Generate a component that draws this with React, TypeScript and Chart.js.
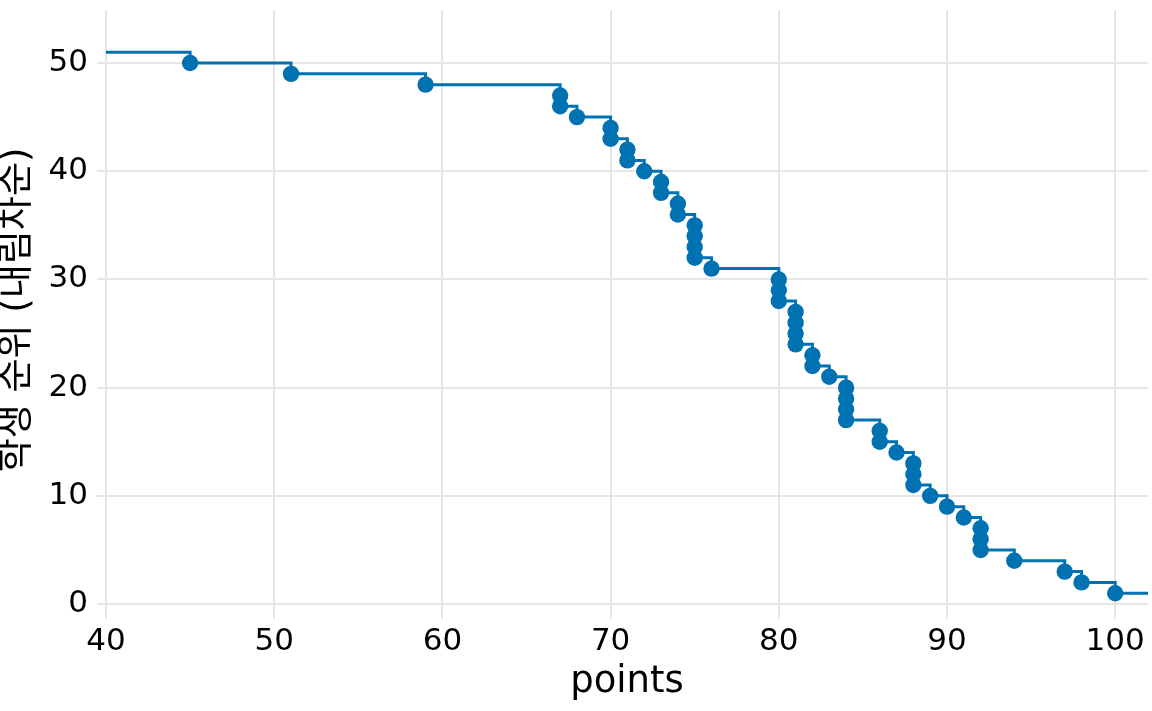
import React, { useEffect, useRef } from "react";
import { Chart, registerables } from "chart.js";

Chart.register(...registerables);

// Student scores sorted ascending, with their descending rank
const scores = [45, 51, 59, 67, 67, 68, 70, 70, 71, 71, 72, 73, 73, 74, 74, 75, 75, 75, 75, 76, 80, 80, 80, 81, 81, 81, 81, 82, 82, 83, 84, 84, 84, 84, 86, 86, 87, 88, 88, 88, 89, 90, 91, 92, 92, 92, 94, 97, 98, 100];
const ranks = [50, 49, 48, 47, 46, 45, 44, 43, 42, 41, 40, 39, 38, 37, 36, 35, 34, 33, 32, 31, 30, 29, 28, 27, 26, 25, 24, 23, 22, 21, 20, 19, 18, 17, 16, 15, 14, 13, 12, 11, 10, 9, 8, 7, 6, 5, 4, 3, 2, 1];
const xTicks = [40, 50, 60, 70, 80, 90, 100];
const yTicks = [0, 10, 20, 30, 40, 50];
const stepStartRank = 51;
const stepEndRank = 1;

const X_MIN = 40;
const X_MAX = 101.95;
const Y_MIN = -0.55;
const Y_MAX = 54.9;

const BLUE = "#0072B2";
const GRID = "#E6E6E6";
const FONT = "'DejaVu Sans', 'Noto Sans CJK KR', sans-serif";

export default function App() {
  const ref = useRef<HTMLCanvasElement | null>(null);

  useEffect(() => {
    document.body.style.margin = "0";
    if (!ref.current) return;
    const pts = scores.map((s, i) => ({ x: s, y: ranks[i] }));
    const stepData = [{ x: X_MIN, y: stepStartRank }, ...pts, { x: X_MAX, y: stepEndRank }];
    const chart = new Chart(ref.current, {
      type: "scatter",
      data: {
        datasets: [
          {
            type: "line",
            data: stepData,
            stepped: "before",
            borderColor: BLUE,
            borderWidth: 3,
            pointRadius: 0,
            fill: false,
            order: 2,
          } as any,
          {
            type: "scatter",
            data: pts,
            backgroundColor: BLUE,
            borderColor: BLUE,
            borderWidth: 0,
            pointRadius: 8.2,
            order: 1,
          },
        ],
      },
      options: {
        animation: false,
        responsive: true,
        maintainAspectRatio: false,
        layout: { autoPadding: false, padding: { top: 10, right: 4, left: 0, bottom: 0 } },
        plugins: { legend: { display: false }, tooltip: { enabled: false } },
        scales: {
          x: {
            type: "linear",
            min: X_MIN,
            max: X_MAX,
            afterBuildTicks: (s: any) => {
              s.ticks = xTicks.map((v) => ({ value: v }));
            },
            afterFit: (s: any) => {
              s.height = 101;
              s.paddingLeft = 0;
              s.paddingRight = 0;
            },
            grid: {
              color: GRID,
              lineWidth: 2,
              drawTicks: true,
              tickLength: 9,
              tickColor: GRID,
              tickWidth: 2,
            },
            border: { display: false },
            ticks: {
              color: "#000",
              font: { family: FONT, size: 31 },
              padding: 4,
              maxRotation: 0,
              autoSkip: false,
            },
            title: {
              display: true,
              text: "points",
              color: "#000",
              font: { family: FONT, size: 37, lineHeight: 1 },
              padding: { top: 0, bottom: 10 },
            },
          },
          y: {
            type: "linear",
            min: Y_MIN,
            max: Y_MAX,
            afterBuildTicks: (s: any) => {
              s.ticks = yTicks.map((v) => ({ value: v }));
            },
            afterFit: (s: any) => {
              s.width = 106;
              s.paddingTop = 0;
              s.paddingBottom = 0;
            },
            grid: {
              color: GRID,
              lineWidth: 2,
              drawTicks: true,
              tickLength: 9,
              tickColor: GRID,
              tickWidth: 2,
            },
            border: { display: false },
            ticks: {
              color: "#000",
              font: { family: FONT, size: 31 },
              padding: 9,
              autoSkip: false,
            },
            title: {
              display: true,
              text: "학생 순위 (내림차순)",
              color: "#000",
              font: { family: FONT, size: 37, lineHeight: 1 },
              padding: { top: 0, bottom: 0 },
            },
          },
        },
      },
    });
    return () => chart.destroy();
  }, []);

  return (
    <div style={{ width: 1152, height: 711, position: "relative" }}>
      <canvas ref={ref} />
    </div>
  );
}
